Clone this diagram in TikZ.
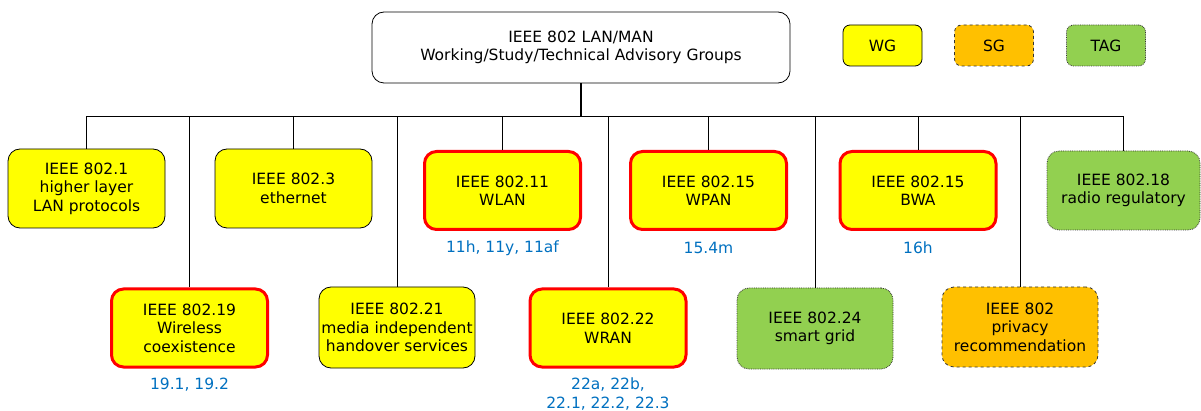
\documentclass[tikz,border=0pt]{standalone}
\usepackage{fontspec}
\setmainfont{DejaVu Sans}
\definecolor{wgy}{HTML}{FFFF00}
\definecolor{sgo}{HTML}{FFC000}
\definecolor{tagg}{HTML}{92D050}
\definecolor{redb}{HTML}{FF0000}
\definecolor{blu}{HTML}{0070C0}
\begin{document}
\begin{tikzpicture}[x=1pt,y=-1pt,
  txt/.style={font=\fontsize{15.5}{18.5}\selectfont, align=center},
  grp/.style={txt, rounded corners=12pt, inner sep=0pt, minimum width=157pt, minimum height=79pt, line width=0.8pt},
  wg/.style={grp, draw=black, fill=wgy},
  wgr/.style={grp, draw=redb, line width=3pt, fill=wgy, minimum width=156pt, minimum height=78pt},
  sg/.style={grp, draw=black!80, dashed, fill=sgo},
  tag/.style={grp, draw=black!80, densely dotted, fill=tagg},
  leg/.style={txt, rounded corners=7pt, inner sep=0pt, minimum width=79pt, minimum height=41pt, line width=0.8pt},
  sub/.style={txt, text=blu},
  conn/.style={draw=black, line width=0.8pt}]
\useasboundingbox (0,0) rectangle (1201,411);
\node[txt, draw=black, rounded corners=12pt, minimum width=418pt, minimum height=71pt, line width=0.8pt] (top) at (581,47.5) {IEEE 802 LAN/MAN\\Working/Study/Technical Advisory Groups};
% legend
\node[leg, draw=black, fill=wgy] (lwg) at (882.5,45.5) {WG};
\node[leg, draw=black!80, dashed, fill=sgo] (lsg) at (994,45.5) {SG};
\node[leg, draw=black!80, densely dotted, fill=tagg] (ltag) at (1106,45.5) {TAG};
% row 1
\node[wg] (n1) at (86.5,188.5) {IEEE 802.1\\higher layer\\LAN protocols};
\node[wg] (n3) at (293.5,188.5) {IEEE 802.3\\ethernet};
\node[wgr] (n11) at (502.5,190.5) {IEEE 802.11\\WLAN};
\node[wgr] (n15) at (708.5,190.5) {IEEE 802.15\\WPAN};
\node[wgr] (n16) at (918,190.5) {IEEE 802.15\\BWA};
\node[tag, minimum width=153pt] (n18) at (1123.5,190.5) {IEEE 802.18\\radio regulatory};
% row 2
\node[wgr] (n19) at (189.5,328) {IEEE 802.19\\Wireless\\coexistence};
\node[wg, minimum width=156pt, minimum height=81pt] (n21) at (397,327.5) {IEEE 802.21\\media independent\\handover services};
\node[wgr] (n22) at (608,328) {IEEE 802.22\\WRAN};
\node[tag, minimum width=156pt, minimum height=81pt] (n24) at (815,328.5) {IEEE 802.24\\smart grid};
\node[sg, minimum width=156pt, minimum height=80pt] (npr) at (1020,327) {IEEE 802\\privacy\\recommendation};
% sub labels
\node[sub] (s11) at (502.5,248) {11h, 11y, 11af};
\node[sub] (s15) at (708.5,248) {15.4m};
\node[sub] (s16) at (918,248) {16h};
\node[sub] (s19) at (189.5,385) {19.1, 19.2};
\node[sub] (s22) at (608,394) {22a, 22b,\\22.1, 22.2, 22.3};
% connectors
\coordinate (bus) at (581,116);
\draw[conn, line width=1.8pt] (top.south) -- (bus);
\draw[conn] (n1.north |- bus) -- (n18.north |- bus);
\foreach \n in {n1,n3,n11,n15,n16,n18,n19,n21,n22,n24,npr}
  \draw[conn] (\n.north) -- (\n.north |- bus);
\end{tikzpicture}
\end{document}
